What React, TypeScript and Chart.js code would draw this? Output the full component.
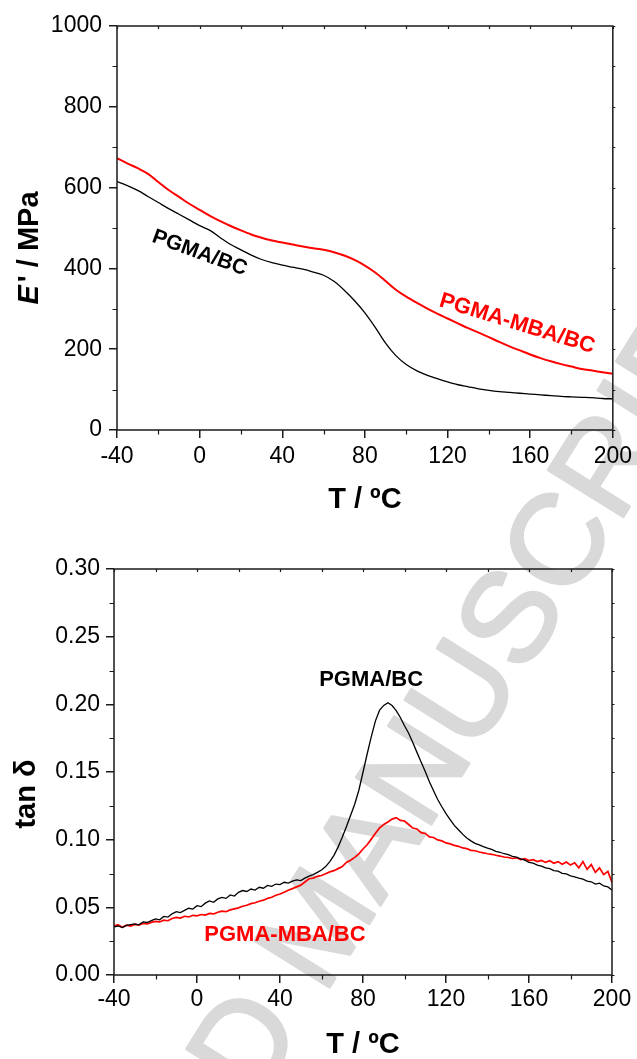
import React, { useEffect, useRef } from "react";
import { Chart, registerables } from "chart.js";

Chart.register(...registerables);

const FONT = "'Liberation Sans', Arial, Helvetica, sans-serif";

// ---------- Storage modulus E' (MPa) ----------
const tempModulus = [
  -40, -35, -30, -25, -20, -15, -10, -5, 0, 5, 10, 15, 20, 25, 30, 35, 40, 45, 50, 55,
  60, 65, 70, 75, 80, 85, 90, 95, 100, 105, 110, 115, 120, 125, 130, 135, 140, 145, 150,
  155, 160, 165, 170, 175, 180, 185, 190, 195, 200,
];
const modulusPGMA = [
  615, 605, 593, 578, 563, 548, 534, 520, 506, 494, 476, 459, 446, 433, 422, 414, 408, 403, 398, 391,
  383, 368, 346, 320, 290, 254, 215, 184, 162, 147, 136, 127, 119, 112, 107, 102, 98, 95, 93,
  91, 89, 87, 85, 83, 82, 81, 80, 78, 77,
];
const modulusPGMAMBA = [
  673, 660, 648, 634, 614, 594, 577, 560, 545, 530, 517, 505, 494, 484, 476, 469, 464, 459, 454, 450,
  446, 440, 432, 421, 407, 390, 369, 347, 330, 315, 301, 288, 276, 264, 252, 241, 230, 218, 207,
  197, 187, 178, 170, 163, 157, 151, 147, 143, 139,
];

// ---------- tan delta ----------
const tempTan = [
  -40, -38, -36, -34, -32, -30, -28, -26, -24, -22, -20, -18, -16, -14, -12, -10, -8, -6, -4, -2,
  0, 2, 4, 6, 8, 10, 12, 14, 16, 18, 20, 22, 24, 26, 28, 30, 32, 34, 36, 38,
  40, 42, 44, 46, 48, 50, 52, 54, 56, 58, 60, 62, 64, 66, 68, 70, 72, 74, 76, 78,
  80, 82, 84, 86, 88, 90, 92, 94, 96, 98, 100, 102, 104, 106, 108, 110, 112, 114, 116, 118,
  120, 122, 124, 126, 128, 130, 132, 134, 136, 138, 140, 142, 144, 146, 148, 150, 152, 154, 156, 158,
  160, 162, 164, 166, 168, 170, 172, 174, 176, 178, 180, 182, 184, 186, 188, 190, 192, 194, 196, 198,
  200,
];
const tanPGMA = [
  0.0355, 0.0362, 0.035, 0.0366, 0.0372, 0.0378, 0.0371, 0.0393, 0.0388, 0.0402, 0.0415, 0.0408, 0.0433, 0.0428, 0.0452, 0.0468, 0.0461, 0.0478, 0.0493, 0.0487,
  0.0512, 0.0505, 0.0531, 0.0548, 0.0537, 0.0562, 0.0574, 0.0566, 0.0592, 0.0583, 0.0611, 0.0624, 0.0617, 0.0635, 0.0628, 0.0648, 0.0641, 0.0662, 0.0655, 0.0672,
  0.0668, 0.0685, 0.0679, 0.0694, 0.0703, 0.0698, 0.0716, 0.0731, 0.0742, 0.0758, 0.0776, 0.0801, 0.0838, 0.0884, 0.0945, 0.1018, 0.1096, 0.1178, 0.1262, 0.1365,
  0.1498, 0.1633, 0.1762, 0.1878, 0.1957, 0.1992, 0.2012, 0.1991, 0.1954, 0.1903, 0.1842, 0.1786, 0.1718, 0.1645, 0.1574, 0.1503, 0.1428, 0.1362, 0.1297, 0.1243,
  0.1192, 0.1148, 0.1106, 0.1073, 0.1041, 0.1012, 0.0991, 0.0973, 0.0962, 0.0948, 0.0937, 0.0928, 0.0914, 0.0907, 0.0896, 0.0889, 0.0877, 0.0871, 0.0858, 0.0849,
  0.0832, 0.0826, 0.0812, 0.0805, 0.0791, 0.0786, 0.0772, 0.0768, 0.0751, 0.0747, 0.0733, 0.0725, 0.0716, 0.0708, 0.0694, 0.0689, 0.0672, 0.0679, 0.0658, 0.0651,
  0.0628,
];
const tanPGMAMBA = [
  0.0362, 0.0371, 0.0352, 0.0368, 0.0361, 0.0374, 0.0368, 0.0381, 0.0377, 0.0389, 0.0396, 0.0392, 0.0405, 0.0401, 0.0418, 0.0426, 0.0421, 0.0434, 0.0429, 0.0441,
  0.0437, 0.0447, 0.0443, 0.0455, 0.0451, 0.0464, 0.0472, 0.0468, 0.0481, 0.0489, 0.0496, 0.0508, 0.0515, 0.0527, 0.0534, 0.0545, 0.0553, 0.0566, 0.0574, 0.0589,
  0.0598, 0.0612, 0.0626, 0.0638, 0.0651, 0.0664, 0.0687, 0.0711, 0.0716, 0.0729, 0.0735, 0.0748, 0.0762, 0.0771, 0.0786, 0.0801, 0.0832, 0.0848, 0.0869, 0.0895,
  0.0931, 0.0962, 0.1004, 0.1048, 0.1087, 0.1112, 0.1131, 0.1152, 0.1163, 0.1142, 0.1138, 0.1112, 0.1086, 0.1079, 0.1052, 0.1046, 0.1021, 0.1016, 0.0998, 0.0991,
  0.0976, 0.0969, 0.0958, 0.0951, 0.0939, 0.0934, 0.0921, 0.0918, 0.0909, 0.0903, 0.0896, 0.0892, 0.0885, 0.0879, 0.0872, 0.0868, 0.0861, 0.0866, 0.0853, 0.0859,
  0.0846, 0.0852, 0.0838, 0.0847, 0.0832, 0.0844, 0.0826, 0.0838, 0.0818, 0.0835, 0.0812, 0.0829, 0.0792, 0.0838, 0.0781, 0.0816, 0.0758, 0.0791, 0.0742, 0.0766,
  0.0683,
];

// ---------- ticks & labels ----------
const tempTicks = [-40, 0, 40, 80, 120, 160, 200];
const tempMinorTicks = [-20, 20, 60, 100, 140, 180];
const modulusTicks = [0, 200, 400, 600, 800, 1000];
const modulusMinorTicks = [100, 300, 500, 700, 900];
const tanTicks = [0, 0.05, 0.1, 0.15, 0.2, 0.25, 0.3];
const tanMinorTicks = [0.025, 0.075, 0.125, 0.175, 0.225, 0.275];
const seriesNames = ["PGMA/BC", "PGMA-MBA/BC"];
const seriesColors = ["#000000", "#ff0000"];
const xTitle = "T / ºC";
const watermarkText = "ACCEPTED MANUSCRIPT";

const AXIS_COLOR = "#1a1a1a";

const framePlugin = {
  id: "frame",
  afterDatasetsDraw(chart: any, _args: any, opts: any) {
    const { ctx, chartArea: a } = chart;
    const xs = chart.scales.x;
    const ys = chart.scales.y;
    ctx.save();
    ctx.strokeStyle = AXIS_COLOR;
    ctx.lineWidth = 1.5;
    ctx.strokeRect(a.left, a.top, a.right - a.left, a.bottom - a.top);
    ctx.lineWidth = 1.2;
    ctx.beginPath();
    for (const v of opts.xMinor) {
      const p = Math.round(xs.getPixelForValue(v)) + 0.5;
      ctx.moveTo(p, a.bottom);
      ctx.lineTo(p, a.bottom + 4.5);
    }
    for (const v of opts.yMinor) {
      const p = Math.round(ys.getPixelForValue(v)) + 0.5;
      ctx.moveTo(a.left, p);
      ctx.lineTo(a.left - 4.5, p);
    }
    for (const v of [...opts.xMinor, ...opts.xMajor]) {
      const p = Math.round(xs.getPixelForValue(v)) + 0.5;
      ctx.moveTo(p, a.top);
      ctx.lineTo(p, a.top + 3);
    }
    for (const v of [...opts.yMinor, ...opts.yMajor]) {
      const p = Math.round(ys.getPixelForValue(v)) + 0.5;
      ctx.moveTo(a.right, p);
      ctx.lineTo(a.right + 2.5, p);
    }
    ctx.stroke();
    ctx.restore();
  },
};

const textPlugin = {
  id: "texts",
  afterDatasetsDraw(chart: any, _args: any, opts: any) {
    const { ctx, chartArea: a } = chart;
    const xs = chart.scales.x;
    const ys = chart.scales.y;
    ctx.save();
    for (const l of opts.labels) {
      const x = xs.getPixelForValue(l.x);
      const y = ys.getPixelForValue(l.y);
      ctx.save();
      ctx.translate(x, y);
      ctx.rotate((l.angle * Math.PI) / 180);
      ctx.font = `bold ${l.size}px ${FONT}`;
      ctx.fillStyle = l.color;
      ctx.textAlign = "center";
      ctx.textBaseline = "middle";
      ctx.fillText(l.text, 0, 0);
      ctx.restore();
    }
    ctx.font = `bold ${opts.titleSize}px ${FONT}`;
    ctx.fillStyle = "#000";
    ctx.textAlign = "center";
    ctx.textBaseline = "alphabetic";
    ctx.fillText(opts.xTitle, (a.left + a.right) / 2, opts.xTitleBaseline);
    const parts = opts.yTitleParts;
    let total = 0;
    const widths: number[] = [];
    for (const p of parts) {
      ctx.font = `${p.italic ? "italic " : ""}bold ${opts.titleSize}px ${FONT}`;
      const w = ctx.measureText(p.text).width + (p.gap || 0);
      widths.push(w);
      total += w;
    }
    ctx.save();
    ctx.translate(opts.yTitleBaselineX, opts.yTitleCenterY);
    ctx.rotate(-Math.PI / 2);
    ctx.textAlign = "left";
    let cx = -total / 2;
    parts.forEach((p: any, i: number) => {
      ctx.font = `${p.italic ? "italic " : ""}bold ${opts.titleSize}px ${FONT}`;
      ctx.fillText(p.text, cx, 0);
      cx += widths[i];
    });
    ctx.restore();
    ctx.restore();
  },
};

function makeConfig(p: any) {
  return {
    type: "line",
    data: {
      datasets: p.series.map((s: any) => ({
        label: s.name,
        data: p.xs.map((t: number, i: number) => ({ x: t, y: s.values[i] })),
        borderColor: s.color,
        borderWidth: s.width,
        pointRadius: 0,
        tension: 0,
        cubicInterpolationMode: p.smooth ? "monotone" : "default",
        fill: false,
      })),
    },
    options: {
      animation: false,
      responsive: false,
      maintainAspectRatio: false,
      events: [],
      layout: { padding: p.padding },
      plugins: {
        legend: { display: false },
        tooltip: { enabled: false },
        frame: { xMinor: tempMinorTicks, xMajor: tempTicks, yMinor: p.yMinor, yMajor: p.yTicks },
        texts: p.texts,
      },
      scales: {
        x: {
          type: "linear",
          min: -40,
          max: 200,
          afterBuildTicks: (s: any) => {
            s.ticks = tempTicks.map((v) => ({ value: v }));
          },
          afterFit: (s: any) => {
            s.height = p.xAxisHeight;
          },
          ticks: {
            font: { size: 23, family: FONT },
            color: "#000",
            padding: p.xTickPadding,
            maxRotation: 0,
            autoSkip: false,
            callback: (v: any) => String(v),
          },
          grid: {
            display: true,
            drawOnChartArea: false,
            drawTicks: true,
            tickLength: 8,
            color: AXIS_COLOR,
            lineWidth: 1.5,
          },
          border: { display: false },
        },
        y: {
          type: "linear",
          min: p.yMin,
          max: p.yMax,
          afterBuildTicks: (s: any) => {
            s.ticks = p.yTicks.map((v: number) => ({ value: v }));
          },
          afterFit: (s: any) => {
            s.width = p.yAxisWidth;
          },
          ticks: {
            font: { size: 23, family: FONT },
            color: "#000",
            padding: p.yTickPadding,
            autoSkip: false,
            callback: p.yFormat,
          },
          grid: {
            display: true,
            drawOnChartArea: false,
            drawTicks: true,
            tickLength: 8,
            color: AXIS_COLOR,
            lineWidth: 1.5,
          },
          border: { display: false },
        },
      },
    },
    plugins: [framePlugin, textPlugin],
  } as any;
}

const modulusConfig = () =>
  makeConfig({
    xs: tempModulus,
    smooth: true,
    series: [
      { name: seriesNames[0], values: modulusPGMA, color: seriesColors[0], width: 1.3 },
      { name: seriesNames[1], values: modulusPGMAMBA, color: seriesColors[1], width: 2 },
    ],
    yMin: 0,
    yMax: 1000,
    yTicks: modulusTicks,
    yMinor: modulusMinorTicks,
    yFormat: (v: any) => String(v),
    padding: { left: 0, top: 26, right: 24, bottom: 70 },
    xAxisHeight: 40,
    yAxisWidth: 117,
    xTickPadding: 5,
    yTickPadding: 7,
    texts: {
      labels: [
        { text: seriesNames[0], x: 0, y: 438, angle: 20, size: 21, color: seriesColors[0] },
        { text: seriesNames[1], x: 153.7, y: 263, angle: 17, size: 22, color: seriesColors[1] },
      ],
      titleSize: 29,
      xTitle,
      xTitleBaseline: 508,
      yTitleParts: [{ text: "E", italic: true, gap: 3 }, { text: "' / MPa" }],
      yTitleBaselineX: 38,
      yTitleCenterY: 248,
    },
  });

const tanConfig = () =>
  makeConfig({
    xs: tempTan,
    smooth: false,
    series: [
      { name: seriesNames[0], values: tanPGMA, color: seriesColors[0], width: 1.3 },
      { name: seriesNames[1], values: tanPGMAMBA, color: seriesColors[1], width: 1.7 },
    ],
    yMin: 0,
    yMax: 0.3,
    yTicks: tanTicks,
    yMinor: tanMinorTicks,
    yFormat: (v: any) => Number(v).toFixed(2),
    padding: { left: 0, top: 29, right: 25, bottom: 44 },
    xAxisHeight: 40,
    yAxisWidth: 114,
    xTickPadding: 3,
    yTickPadding: 6,
    texts: {
      labels: [
        { text: seriesNames[0], x: 83.9, y: 0.2183, angle: 0, size: 22, color: seriesColors[0] },
        { text: seriesNames[1], x: 42.4, y: 0.0294, angle: 0, size: 22, color: seriesColors[1] },
      ],
      titleSize: 29,
      xTitle,
      xTitleBaseline: 513,
      yTitleParts: [{ text: "tan δ" }],
      yTitleBaselineX: 35,
      yTitleCenterY: 254,
    },
  });

function ChartCanvas({ config, top, height }: { config: () => any; top: number; height: number }) {
  const ref = useRef<HTMLCanvasElement>(null);
  useEffect(() => {
    const chart = new Chart(ref.current as HTMLCanvasElement, config());
    return () => chart.destroy();
  }, []);
  return (
    <canvas
      ref={ref}
      width={637}
      height={height}
      style={{ position: "absolute", left: 0, top, width: 637, height, zIndex: 1 }}
    />
  );
}

function Watermark() {
  const ref = useRef<HTMLCanvasElement>(null);
  useEffect(() => {
    const c = ref.current as HTMLCanvasElement;
    const ctx = c.getContext("2d") as CanvasRenderingContext2D;
    ctx.clearRect(0, 0, c.width, c.height);
    ctx.save();
    ctx.font = `128px ${FONT}`;
    ctx.fillStyle = "#d9d9d9";
    ctx.strokeStyle = "#d9d9d9";
    ctx.lineWidth = 3;
    ctx.lineJoin = "round";
    const pre = ctx.measureText("ACCEPTED ").width;
    const mw = ctx.measureText("M").width;
    ctx.translate(322, 932);
    ctx.rotate((-58 * Math.PI) / 180);
    ctx.textAlign = "left";
    ctx.textBaseline = "middle";
    ctx.fillText(watermarkText, -(pre + mw / 2), 0);
    ctx.strokeText(watermarkText, -(pre + mw / 2), 0);
    ctx.restore();
  }, []);
  return (
    <canvas
      ref={ref}
      width={637}
      height={1059}
      style={{ position: "absolute", left: 0, top: 0, width: 637, height: 1059, zIndex: 0 }}
    />
  );
}

export default function App() {
  return (
    <div style={{ position: "absolute", left: 0, top: 0, width: 637, height: 1059, background: "#fff", overflow: "hidden" }}>
      <Watermark />
      <ChartCanvas config={modulusConfig} top={0} height={540} />
      <ChartCanvas config={tanConfig} top={540} height={519} />
    </div>
  );
}
